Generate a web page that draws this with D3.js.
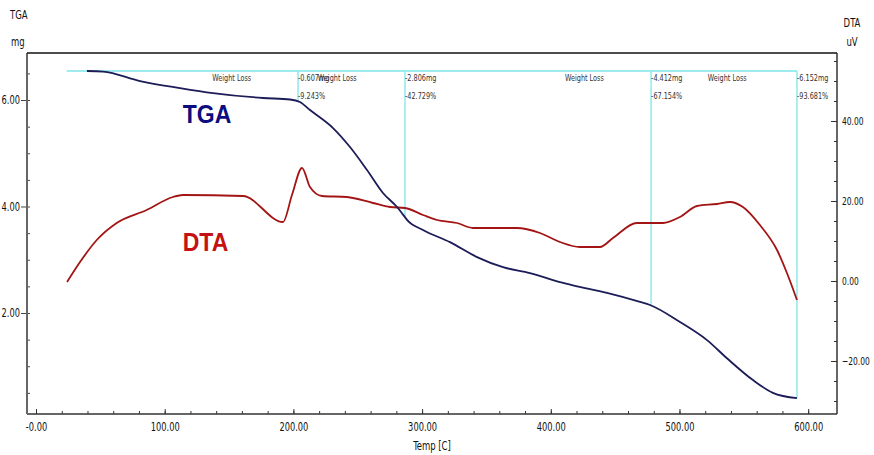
<!DOCTYPE html>
<html lang="en">
<head>
<meta charset="UTF-8">
<title>TGA / DTA</title>
<style>
  body { margin: 0; background: #fff; }
  svg { display: block; font-family: "Liberation Sans Narrow", "DejaVu Sans Condensed", "Liberation Sans", sans-serif; }
</style>
</head>
<body>
<div id="chart"></div>
<script src="https://cdn.jsdelivr.net/npm/d3@7"></script>
<script>
// temperature [C] / mass [mg]
const tgaTemp = [39.6, 52.1, 80.8, 111.9, 137.5, 176.4, 197.4, 205.1, 212.9, 230.8, 244.0, 257.2, 269.6, 280.5, 286.7, 288.3, 300.7, 321.7, 342.7, 362.9, 383.8, 407.1, 417.2, 443.7, 469.3, 477.1, 500.4, 521.4, 536.9, 557.1, 572.6, 591.3];
const tgaMass = [6.545, 6.535, 6.357, 6.225, 6.131, 6.038, 6.01, 5.962, 5.812, 5.474, 5.117, 4.685, 4.254, 3.99, 3.80, 3.75, 3.56, 3.33, 3.05, 2.86, 2.75, 2.58, 2.52, 2.38, 2.21, 2.15, 1.83, 1.49, 1.15, 0.74, 0.50, 0.40];

// temperature [C] / DTA [uV]
const dtaTemp = [24.1, 34.2, 47.2, 62.7, 86.0, 106.4, 114.2, 160.8, 191.9, 198.9, 206.7, 212.9, 222.2, 241.6, 261.8, 275.1, 286.7, 300.7, 311.6, 327.1, 339.5, 373.7, 391.6, 407.1, 422.7, 438.2, 448.3, 466.9, 487.2, 500.4, 513.6, 529.1, 539.2, 549.3, 562.5, 575.8, 583.5, 591.3];
const dtaVal = [-0.25, 4.75, 10.25, 14.5, 17.75, 21.0, 21.5, 21.25, 14.75, 21.5, 28.25, 23.5, 21.25, 21.0, 19.5, 18.5, 18.25, 16.5, 15.25, 14.5, 13.25, 13.25, 12.0, 9.75, 8.5, 8.5, 10.75, 14.5, 14.5, 16.0, 18.75, 19.25, 19.75, 18.5, 14.0, 7.75, 2.0, -4.75];

// weight loss steps
const stepStart = 23.8;
const stepTemp = [203.6, 286.7, 477.9, 591.3];
const stepMg = ["-0.607mg", "-2.806mg", "-4.412mg", "-6.152mg"];
const stepPct = ["-9.243%", "-42.729%", "-67.154%", "-93.681%"];
const stepLabelTemp = [137, 219, 411, 522];

const xTicks = [0, 100, 200, 300, 400, 500, 600];
const yTgaTicks = [2, 4, 6];
const yDtaTicks = [-20, 0, 20, 40];

const W = 874, H = 455;
const pLeft = 27, pRight = 837, pTop = 53, pBottom = 414;

const svg = d3.select("#chart").append("svg")
  .attr("width", W).attr("height", H);

// squeeze text horizontally, like a narrow font
function narrow(sel, k) {
  sel.each(function () {
    const w = this.getComputedTextLength();
    d3.select(this).attr("textLength", w * k).attr("lengthAdjust", "spacingAndGlyphs");
  });
}

const x = d3.scaleLinear().domain([-7.0, 622.4]).range([pLeft, pRight]);
const yT = d3.scaleLinear().domain([0.103, 6.883]).range([pBottom, pTop]);
const yD = d3.scaleLinear().domain([-33.25, 57]).range([pBottom, pTop]);

const fmt = d3.format(".2f");
const fmtX = d => d === 0 ? "-0.00" : fmt(d);

// bottom axis
const xAxis = svg.append("g").attr("transform", `translate(0,${pBottom})`);
xAxis.append("g").call(d3.axisBottom(x).tickValues(d3.range(0, 620, 20)).tickSize(-3).tickFormat(""))
  .call(g => g.select(".domain").remove());
xAxis.append("g").call(d3.axisBottom(x).tickValues(xTicks).tickSize(-5).tickFormat(fmtX).tickPadding(9))
  .call(g => g.select(".domain").remove())
  .call(g => g.selectAll("text").attr("font-size", 11.5).attr("fill", "#111"));
xAxis.selectAll("g").attr("font-family", null);
xAxis.selectAll("line").attr("stroke", "#333");
svg.append("line").attr("x1", pLeft).attr("x2", pRight).attr("y1", pBottom).attr("y2", pBottom)
  .attr("stroke", "#333").attr("stroke-width", 1.5);

// left axis (TGA)
const lAxis = svg.append("g").attr("transform", `translate(${pLeft},0)`);
lAxis.append("g").call(d3.axisLeft(yT).tickValues(d3.range(0.5, 6.6, 0.5)).tickSize(-3).tickFormat(""))
  .call(g => g.select(".domain").remove());
lAxis.append("g").call(d3.axisLeft(yT).tickValues(yTgaTicks).tickSize(6).tickPadding(1).tickFormat(fmt))
  .call(g => g.select(".domain").remove())
  .call(g => g.selectAll("text").attr("font-size", 11.5).attr("fill", "#111"));
lAxis.selectAll("g").attr("font-family", null);
lAxis.selectAll("line").attr("stroke", "#444");
svg.append("line").attr("x1", pLeft).attr("x2", pLeft).attr("y1", pTop).attr("y2", pBottom)
  .attr("stroke", "#666").attr("stroke-width", 2);

// right axis (DTA)
const rAxis = svg.append("g").attr("transform", `translate(${pRight},0)`);
rAxis.append("g").call(d3.axisRight(yD).tickValues(d3.range(-30, 56, 5)).tickSize(-3).tickFormat(""))
  .call(g => g.select(".domain").remove());
rAxis.append("g").call(d3.axisRight(yD).tickValues(yDtaTicks).tickSize(-6).tickPadding(5).tickFormat(fmt))
  .call(g => g.select(".domain").remove())
  .call(g => g.selectAll("text").attr("font-size", 11).attr("fill", "#111"));
rAxis.selectAll("g").attr("font-family", null);
rAxis.selectAll("line").attr("stroke", "#333");
svg.append("line").attr("x1", pRight).attr("x2", pRight).attr("y1", pTop).attr("y2", pBottom)
  .attr("stroke", "#333").attr("stroke-width", 1.5);

narrow(xAxis.selectAll(".tick text"), 0.8);
narrow(lAxis.selectAll(".tick text"), 0.8);
narrow(rAxis.selectAll(".tick text"), 0.76);

// top border
svg.append("line").attr("x1", pLeft).attr("x2", pRight).attr("y1", pTop).attr("y2", pTop)
  .attr("stroke", "#111").attr("stroke-width", 1.5);

// axis titles
const title = (t, px, py, anchor) => svg.append("text").attr("x", px).attr("y", py)
  .attr("text-anchor", anchor || "start").attr("font-size", 11.5).attr("fill", "#111").text(t)
  .call(s => narrow(s, 0.82));
title("TGA", 10, 19);
title("mg", 11, 46);
title("DTA", 852, 27, "middle");
title("uV", 852, 46, "middle");
title("Temp  [C]", 432, 450, "middle");

// weight-loss annotation lines
const tgaAt = t => {
  const i = d3.bisectLeft(tgaTemp, t);
  if (i <= 0) return tgaMass[0];
  if (i >= tgaTemp.length) return tgaMass[tgaMass.length - 1];
  const f = (t - tgaTemp[i - 1]) / (tgaTemp[i] - tgaTemp[i - 1]);
  return tgaMass[i - 1] + f * (tgaMass[i] - tgaMass[i - 1]);
};
const cyan = "#7fe6ea";
const yStep = yT(tgaMass[0]);
svg.append("line")
  .attr("x1", x(stepStart)).attr("x2", x(stepTemp[stepTemp.length - 1]))
  .attr("y1", yStep).attr("y2", yStep)
  .attr("stroke", cyan).attr("stroke-width", 1.3);
svg.selectAll(".step").data(stepTemp).enter().append("line")
  .attr("x1", d => x(d)).attr("x2", d => x(d))
  .attr("y1", yStep).attr("y2", d => yT(tgaAt(d)))
  .attr("stroke", cyan).attr("stroke-width", 1.3);

const ann = svg.append("g").attr("font-size", 8.5).attr("fill", "#333");
ann.selectAll(".wl").data(stepLabelTemp).enter().append("text")
  .attr("x", d => x(d)).attr("y", yStep + 10).text("Weight Loss");
ann.selectAll(".mg").data(stepTemp).enter().append("text")
  .attr("x", d => x(d)).attr("y", yStep + 10).text((d, i) => stepMg[i]);
ann.selectAll(".pct").data(stepTemp).enter().append("text")
  .attr("x", d => x(d)).attr("y", yStep + 28).text((d, i) => stepPct[i]);
narrow(ann.selectAll("text"), 0.85);

// curves
const tga = tgaTemp.map((t, i) => [t, tgaMass[i]]);
const dta = dtaTemp.map((t, i) => [t, dtaVal[i]]);

svg.append("path").datum(dta)
  .attr("fill", "none").attr("stroke", "#a31414").attr("stroke-width", 1.8)
  .attr("d", d3.line().x(d => x(d[0])).y(d => yD(d[1])).curve(d3.curveMonotoneX));

svg.append("path").datum(tga)
  .attr("fill", "none").attr("stroke", "#1c1c58").attr("stroke-width", 1.8)
  .attr("d", d3.line().x(d => x(d[0])).y(d => yT(d[1])).curve(d3.curveMonotoneX));

// curve labels
svg.append("text").attr("x", x(114)).attr("y", yT(5.57))
  .attr("font-family", "Liberation Sans, Arial, sans-serif")
  .attr("font-size", 25).attr("font-weight", "bold").attr("fill", "#0d0d80").text("TGA")
  .call(s => narrow(s, 0.92));
svg.append("text").attr("x", x(114)).attr("y", yD(7.5))
  .attr("font-family", "Liberation Sans, Arial, sans-serif")
  .attr("font-size", 25).attr("font-weight", "bold").attr("fill", "#c41212").text("DTA")
  .call(s => narrow(s, 0.92));
</script>
</body>
</html>
